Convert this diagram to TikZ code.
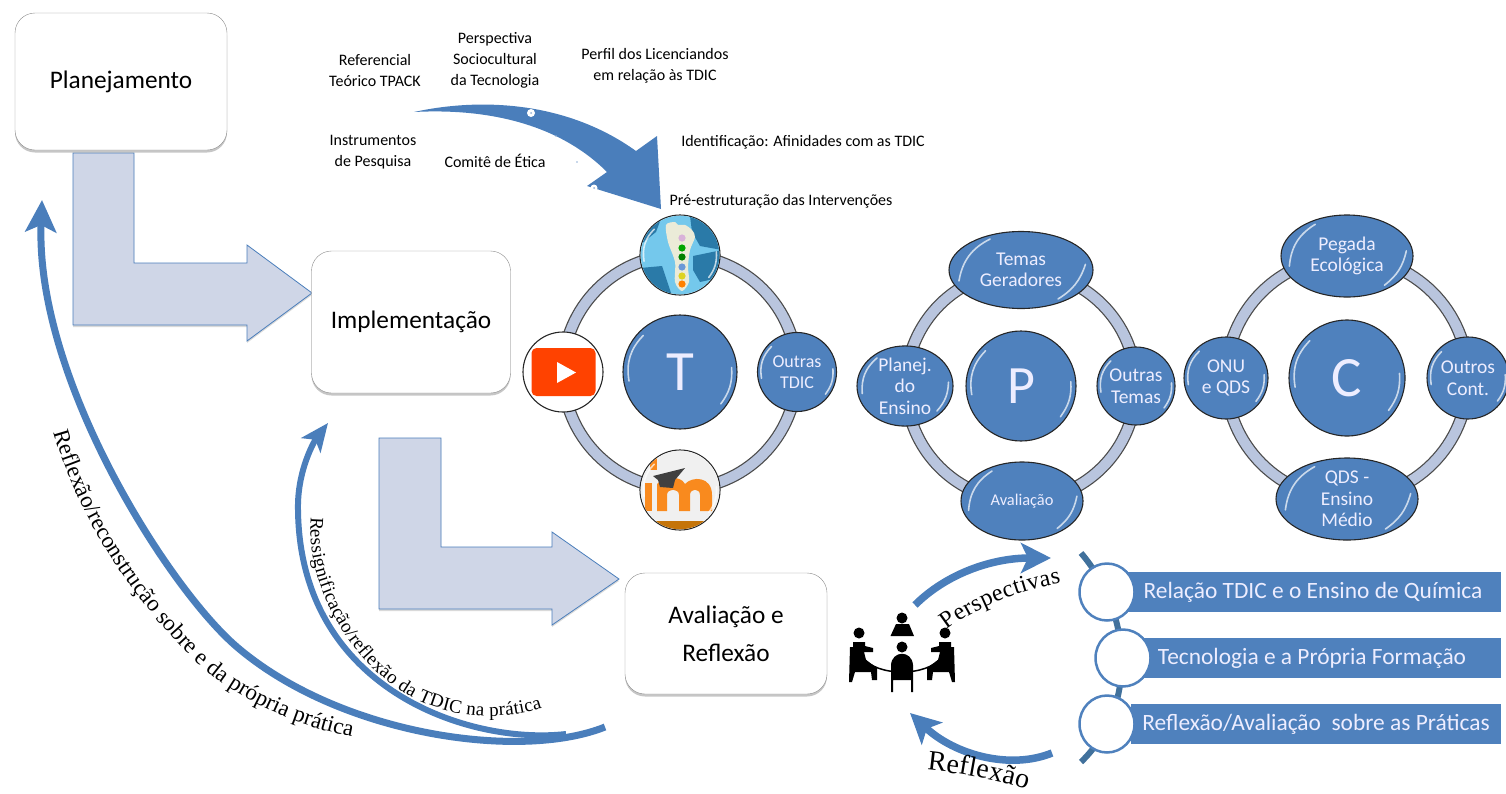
\documentclass[tikz,border=0pt]{standalone}
\usepackage{fontspec}
\setmainfont{Carlito}
\newfontfamily\curvefont{Liberation Serif}
\usetikzlibrary{shapes,arrows.meta,calc,shadows,decorations.text}
\definecolor{ballblue}{HTML}{4F81BD}
\definecolor{flatblue}{HTML}{4A7EBB}
\definecolor{ringblue}{HTML}{B9C5DE}
\definecolor{palearrow}{HTML}{CFD6E7}
\definecolor{spineblue}{HTML}{41719C}
\definecolor{globelight}{HTML}{74C8EC}
\definecolor{globedark}{HTML}{2A7AA8}
\definecolor{footcream}{HTML}{EBEBD8}
\definecolor{youtubered}{HTML}{FF4200}
\definecolor{moodleorange}{HTML}{F98A1E}
\definecolor{moodlestrip}{HTML}{C57408}
\tikzset{
  stage/.style={draw=black!45,fill=white,rounded corners=20pt,minimum width=#1,font=\fontsize{25.3}{28}\selectfont,align=center,drop shadow={shadow xshift=0pt,shadow yshift=-2.5pt,opacity=.45}},
  note/.style={font=\fontsize{16}{21}\selectfont,align=center},
  ball/.style={ellipse,draw=black!85,line width=1.1pt,fill=ballblue,text=white!93!blue,inner sep=0pt,align=center,font=\fontsize{19.5}{21.5}\selectfont},
  hub/.style={ball,minimum width=114pt,minimum height=114pt,font=\fontsize{57}{57}\selectfont},
  ringback/.style={draw=black!70,line width=12.5pt},
  ringfront/.style={draw=ringblue,line width=10pt},
  gloss/.style={draw=white,line width=1.6pt,opacity=.7,line cap=round},
  bigarrow/.style={draw=flatblue,line width=7pt,-{Stealth[length=32pt,width=31pt,inset=7pt]}},
  midarrow/.style={draw=flatblue,line width=7.5pt,-{Stealth[length=30pt,width=30pt,inset=7pt]}},
  elbow/.style={draw=flatblue,line width=.8pt,fill=palearrow,drop shadow={shadow xshift=0pt,shadow yshift=-2pt,opacity=.3}},
  bar/.style={fill=ballblue,text=white!93!blue,minimum height=40pt,inner sep=0pt,font=\fontsize{23.4}{26}\selectfont},
  dot/.style={ellipse,draw=ballblue,line width=2.5pt,fill=white,minimum width=55pt,minimum height=57pt,inner sep=0pt},
  curve/.style={decorate,decoration={text along path,text align=fit to path}},
  person/.style={fill=black,draw=none},
}
\begin{document}
\begin{tikzpicture}[x=1pt,y=-1pt]
  \useasboundingbox (0,0) rectangle (1506,793);

  % stages and their elbow arrows
  \draw[elbow] (73,153) -- (134,153) -- (134,263) -- (247,263) -- (247,245) -- (312,293) -- (247,341) -- (247,325) -- (73,325) -- cycle;
  \draw[elbow] (379,438) -- (441,438) -- (441,547) -- (552,547) -- (552,532) -- (619,579) -- (552,625) -- (552,609) -- (379,609) -- cycle;
  \draw (121,81.5) node[stage=212pt,minimum height=137pt] (planejamento) {Planejamento};
  \draw (411,322) node[stage=199pt,minimum height=142pt] (implementacao) {Implementação};
  \draw (726,633.5) node[stage=202pt,minimum height=121pt] (avaliacao) {Avaliação e\\[10pt]Reflexão};

  % top curved arrow
  \fill[flatblue] (414,112) .. controls (478,98) and (565,100) .. (636,151) -- (657,136) -- (661,209) -- (587,186) -- (607,172) .. controls (560,125) and (490,108) .. (414,112) -- cycle;
  \fill[white] (531,113) circle (4pt) (594,188) circle (3.5pt);
  \fill[flatblue!60] (531,113) circle (1pt) (594,188) circle (1pt) (556,136) circle (.8pt) (577,162) circle (.8pt);

  \draw (375,70) node[note] (referencial) {Referencial\\Teórico TPACK};
  \draw (495,60) node[note] (perspectiva) {Perspectiva\\Sociocultural\\da Tecnologia};
  \draw (655,66) node[note] (perfil) {Perfil dos Licenciandos\\em relação às TDIC};
  \draw (373,152) node[note] (instrumentos) {Instrumentos\\de Pesquisa};
  \draw (495,161) node[note] (comite) {Comitê de Ética};
  \draw (803,142) node[note] (identificacao) {Identificação: Afinidades com as TDIC};
  \draw (781,201) node[note] (preestrutura) {Pré-estruturação das Intervenções};

  % T group
  \draw (680,372) node[hub] (hubt) {T};
  \draw[ringback] (hubt) circle (117pt);
  \draw[ringfront] (hubt) circle (117pt);
  \draw (680,255) node[ball,minimum width=80pt,minimum height=80pt,fill=white] (globe) {};
  \draw (563,372) node[ball,minimum width=80pt,minimum height=80pt,fill=white] (youtube) {};
  \draw (797,372) node[ball,minimum width=79pt,minimum height=79pt,font=\fontsize{18}{21}\selectfont] (outrastdic) {Outras\\TDIC};
  \draw (680,490) node[ball,minimum width=80pt,minimum height=80pt,fill=white] (moodle) {};

  % globe logo
  \begin{scope}
    \clip (680,255) circle (39.3pt);
    \fill[globelight] (640,215) rectangle (720,295);
    \fill[globedark] (690,216) -- (722,222) -- (722,250) -- (700,246) -- (692,232) -- cycle;
    \fill[globedark] (693,256) -- (722,250) -- (718,278) -- (700,282) -- (693,270) -- cycle;
    \fill[globedark] (640,268) -- (662,266) -- (672,296) -- (640,296) -- cycle;
    \fill[globedark] (640,218) -- (662,216) -- (656,232) -- (640,245) -- cycle;
    \fill[footcream] plot[smooth cycle] coordinates {(666,225) (675,222) (678,225) (685,225) (692,230) (695,237) (690,250) (688,267) (689,282) (682,291) (675,282) (675,262) (668,242)};
    \foreach \dotcolor/\doty in {violet!30!white/238,green!65!black/248,green!50!black/257,cyan!50!blue!60!white/267,yellow!85!black/276,orange/284}
      \fill[\dotcolor] (682,\doty) circle (3.6pt);
  \end{scope}

  % youtube logo
  \draw (563.5,372) node[fill=youtubered,rounded corners=5pt,minimum width=64pt,minimum height=48pt] (ytbox) {};
  \fill[white] (557,362) -- (576,372.5) -- (557,383) -- cycle;

  % moodle logo
  \begin{scope}
    \clip (680,490) circle (39.3pt);
    \fill[black!6!white] (640,450) rectangle (720,530);
    \fill[moodlestrip] (640,521) rectangle (720,530);
    \fill[moodleorange] (645,483) rectangle (652,511);
    \fill[moodleorange] (650,458) rectangle (657,470);
    \fill[moodleorange] (657,511) -- (657,484) .. controls (662,478) and (680,474) .. (685,484) .. controls (692,476) and (712,476) .. (712,495) -- (712,511) -- (700,511) -- (700,495) .. controls (700,488) and (690,488) .. (690,495) -- (690,511) -- (679,511) -- (679,495) .. controls (679,488) and (667,488) .. (667,495) -- (667,511) -- cycle;
    \fill[black!75] (653,476) -- (685,468) -- (675,480) -- (673,488) -- (660,487) -- (658,480) -- cycle;
  \end{scope}

  % P group
  \draw (1021,386) node[hub,minimum width=110pt,minimum height=110pt,font=\fontsize{54}{54}\selectfont] (hubp) {P};
  \draw[ringback] (hubp) circle (115pt);
  \draw[ringfront] (hubp) circle (115pt);
  \draw (1021,270) node[ball,minimum width=144pt,minimum height=77pt] (temas) {Temas\\Geradores};
  \draw (905,386) node[ball,minimum width=96pt,minimum height=78pt] (planej) {Planej.\\do\\Ensino};
  \draw (1136,386) node[ball,minimum width=78pt,minimum height=78pt] (outrastemas) {Outras\\Temas};
  \draw (1022,501) node[ball,minimum width=122pt,minimum height=78pt,font=\fontsize{16.4}{18}\selectfont] (avalia) {Avaliação};

  % C group
  \draw (1347,378) node[hub,minimum width=116pt,minimum height=116pt] (hubc) {C};
  \draw[ringback] (hubc) circle (121pt);
  \draw[ringfront] (hubc) circle (121pt);
  \draw (1347,256) node[ball,minimum width=132pt,minimum height=82pt] (pegada) {Pegada\\Ecológica};
  \draw (1226,378) node[ball,minimum width=84pt,minimum height=82pt] (onu) {ONU\\e QDS};
  \draw (1468,378) node[ball,minimum width=82pt,minimum height=82pt] (outroscont) {Outros\\Cont.};
  \draw (1347,499) node[ball,minimum width=142pt,minimum height=82pt] (qds) {QDS -\\Ensino\\Médio};

  % highlights on the balls
  \foreach \ballname in {globe,hubt,outrastdic,moodle,hubp,temas,planej,outrastemas,avalia,hubc,pegada,onu,outroscont,qds}{
    \draw[gloss] ($(\ballname.center)!.9!(\ballname.190)$) to[bend left=27] ($(\ballname.center)!.9!(\ballname.135)$);
    \draw[gloss] ($(\ballname.center)!.9!(\ballname.5)$) to[bend left=20] ($(\ballname.center)!.9!(\ballname.-38)$);
  }

  % return arcs
  \coordinate (replystart) at (605,727);
  \coordinate (replytip) at (42,200);
  \coordinate (resstart) at (566,734);
  \coordinate (restip) at (328,423);
  \draw[bigarrow] (replystart) .. controls (520,761) and (340,735) .. (237,647) .. controls (170,590) and (35,380) .. (replytip);
  \draw[bigarrow,line width=6pt,-{Stealth[length=28pt,width=24pt,inset=7pt]}] (resstart) .. controls (470,745) and (300,690) .. (298,510) .. controls (297,470) and (315,440) .. (restip);

  \path[curve,decoration={text={|\curvefont\fontsize{23}{23}\selectfont|Reflexão/reconstrução sobre e da própria prática}}] (54,432) .. controls (70,490) and (110,575) .. (194,660) .. controls (230,695) and (290,725) .. (352,737);
  \path[curve,decoration={text={|\curvefont\fontsize{19}{19}\selectfont|Ressignificação/reflexão da TDIC na prática}}] (311,517) .. controls (305,580) and (345,650) .. (389,682) .. controls (430,715) and (490,725) .. (542,708);

  % table of people
  \foreach \headx/\heady in {902/618,902/647,859/633,945/633}
    \fill[person] (\headx,\heady) circle (5.5pt);
  \fill[person] (890.5,636) -- (914,636) -- (909,624) -- (896,624) -- cycle;
  \fill[person] (891,692) -- (891,665) .. controls (892,650) and (912,650) .. (913,665) -- (913,692) -- (911,692) -- (911,680) -- (893,680) -- (893,692) -- cycle;
  \foreach \side in {-1,1}{
    \begin{scope}[xshift=902pt,xscale=\side]
      \fill[person] (-52,647) -- (-49,647) -- (-49,642) -- (-37,642) -- (-37,646) -- (-29,648) -- (-29,652) -- (-38,652) -- (-36,660) -- (-25,668) -- (-25,680) -- (-30,680) -- (-31,672) -- (-47,672) -- (-50,682) -- (-53,682) -- cycle;
    \end{scope}
  }
  \draw[black,line width=1.5pt] (863,657) .. controls (875,677) and (929,677) .. (941,657);

  % list on the right
  \coordinate (spinetop) at (1081,553);
  \coordinate (spinebottom) at (1081,762);
  \draw[spineblue,line width=6pt] (spinetop) .. controls (1130,610) and (1140,705) .. (spinebottom);
  \draw (1313,592) node[bar,minimum width=376pt] (barrelacao) {Relação TDIC e o Ensino de Química};
  \draw (1312,658) node[bar,minimum width=378pt] (bartecnologia) {Tecnologia e a Própria Formação};
  \draw (1316,724) node[bar,minimum width=370pt] (barreflexao) {Reflexão/Avaliação\ \ sobre as Práticas};
  \draw (1107,592) node[dot] (dotrelacao) {};
  \draw (1123,658) node[dot] (dottecnologia) {};
  \draw (1107,724) node[dot] (dotreflexao) {};

  % small arrows by the table
  \coordinate (perstail) at (915,605);
  \coordinate (perstip) at (1051,558);
  \coordinate (refltail) at (1052,753);
  \coordinate (refltip) at (910,713);
  \draw[midarrow] (perstail) .. controls (945,575) and (990,558) .. (perstip);
  \draw[midarrow] (refltail) .. controls (1010,770) and (955,755) .. (refltip);
  \path[curve,decoration={text={|\curvefont\fontsize{24}{24}\selectfont|Perspectivas}}] (947,630) .. controls (975,608) and (1020,590) .. (1061,583);
  \path[curve,decoration={text={|\curvefont\fontsize{28}{28}\selectfont|Reflexão}}] (927,770) .. controls (960,773) and (1000,781) .. (1027,789);
\end{tikzpicture}
\end{document}
